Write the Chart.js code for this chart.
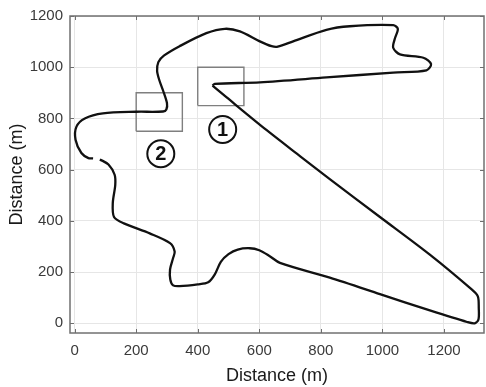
<!DOCTYPE html>
<html><head><meta charset="utf-8">
<script src="https://cdn.jsdelivr.net/npm/chart.js@4/dist/chart.umd.min.js"></script>
<style>html,body{margin:0;padding:0;background:#fff}#wrap{width:486px;height:387px}</style>
</head><body><div id="wrap"><canvas id="c" width="486" height="387"></canvas></div>
<script>
// Track centre line (m); null marks the small gap in the drawn line
const pathX = [448,493,623,732,829,992,1154,1290,1310,1313,1312,1300,1275,1154,992,829,667,634,600,569,530,500,475,455,434,400,341,320,311,310,320,325,310,244,160,128,124,132,130,110,82,null,60,45,22,3,6,33,92,200,287,298,300,287,275,268,272,290,341,428,488,537,600,640,660,710,818,894,1035,1050,1040,1035,1057,1133,1158,1143,1035,818,602,455,448];
const pathY = [928,883,755,653,563,415,268,132,105,60,15,0,5,50,114,178,236,262,285,293,288,270,240,190,160,152,145,148,170,210,255,280,313,351,390,415,470,540,580,620,640,null,644,645,665,717,768,800,820,826,827,835,860,910,950,985,1020,1045,1082,1133,1150,1140,1102,1082,1080,1101,1146,1160,1164,1150,1110,1076,1050,1037,1012,988,979,960,941,935,928];
// Highlight boxes (m)
const boxLeft = [400, 200];
const boxRight = [550, 350];
const boxBottom = [850, 750];
const boxTop = [1000, 900];
// Circled labels (m)
const markX = [481, 280];
const markY = [757, 662];
const markText = ['1', '2'];
// Axis ticks
const xTicks = [0, 200, 400, 600, 800, 1000, 1200];
const yTicks = [0, 200, 400, 600, 800, 1000, 1200];
const xTitle = 'Distance (m)';
const yTitle = 'Distance (m)';

const FONT = "'Liberation Sans', Arial, Helvetica, sans-serif";
const pathData = pathX.map((x, i) => ({x: x, y: pathY[i]}));
const boxSets = boxLeft.map((l, i) => ({
  data: [{x: l, y: boxBottom[i]}, {x: boxRight[i], y: boxBottom[i]}, {x: boxRight[i], y: boxTop[i]}, {x: l, y: boxTop[i]}, {x: l, y: boxBottom[i]}],
  showLine: true, borderColor: '#7f7f7f', borderWidth: 1.4, pointRadius: 0, tension: 0, fill: false
}));

const framePlugin = {
  id: 'frame',
  afterDatasetsDraw(chart) {
    const {ctx, chartArea: a, scales: {x, y}} = chart;
    ctx.save();
    // circled labels
    ctx.strokeStyle = '#111'; ctx.lineWidth = 2;
    ctx.fillStyle = '#111';
    ctx.font = 'bold 20px ' + FONT;
    ctx.textAlign = 'center'; ctx.textBaseline = 'middle';
    markX.forEach((mx, i) => {
      const px = x.getPixelForValue(mx), py = y.getPixelForValue(markY[i]);
      ctx.beginPath(); ctx.arc(px, py, 13.5, 0, Math.PI * 2); ctx.stroke();
      ctx.fillText(markText[i], px, py + 1);
    });
    // inward tick marks
    ctx.strokeStyle = '#6e6e6e'; ctx.lineWidth = 1;
    ctx.beginPath();
    xTicks.forEach(v => {
      const px = Math.round(x.getPixelForValue(v)) + 0.5;
      ctx.moveTo(px, a.bottom); ctx.lineTo(px, a.bottom - 4);
      ctx.moveTo(px, a.top); ctx.lineTo(px, a.top + 4);
    });
    yTicks.forEach(v => {
      const py = Math.round(y.getPixelForValue(v)) + 0.5;
      ctx.moveTo(a.left, py); ctx.lineTo(a.left + 4, py);
      ctx.moveTo(a.right, py); ctx.lineTo(a.right - 4, py);
    });
    ctx.stroke();
    // box
    ctx.lineWidth = 1.5; ctx.strokeStyle = '#707070';
    ctx.strokeRect(a.left, a.top, a.right - a.left, a.bottom - a.top);
    ctx.restore();
  }
};

new Chart(document.getElementById('c'), {
  type: 'scatter',
  data: {
    datasets: [
      {data: pathData, showLine: true, borderColor: '#111', borderWidth: 2.3, pointRadius: 0, tension: 0.3, spanGaps: false, fill: false}
    ].concat(boxSets)
  },
  options: {
    responsive: false, animation: false, devicePixelRatio: 1,
    layout: {padding: {top: 11, right: 2, left: 0, bottom: 0}},
    plugins: {legend: {display: false}, tooltip: {enabled: false}},
    scales: {
      x: {
        type: 'linear', min: -15, max: 1330,
        afterBuildTicks: s => { s.ticks = xTicks.map(v => ({value: v})); },
        afterFit: s => { s.height = 54; },
        grid: {color: '#e6e6e6', lineWidth: 1, drawTicks: false},
        border: {display: false},
        ticks: {padding: 9, color: '#3a3a3a', font: {family: FONT, size: 15}, maxRotation: 0, callback: v => String(v)},
        title: {display: true, text: xTitle, color: '#1a1a1a', font: {family: FONT, size: 18}, padding: {top: 0, bottom: 0}}
      },
      y: {
        type: 'linear', min: -38, max: 1200,
        afterBuildTicks: s => { s.ticks = yTicks.map(v => ({value: v})); },
        afterFit: s => { s.width = 70; },
        grid: {color: '#e6e6e6', lineWidth: 1, drawTicks: false},
        border: {display: false},
        ticks: {padding: 7, color: '#3a3a3a', font: {family: FONT, size: 15}, callback: v => String(v)},
        title: {display: true, text: yTitle, color: '#1a1a1a', font: {family: FONT, size: 18}, padding: {top: 6, bottom: 0}}
      }
    }
  },
  plugins: [framePlugin]
});
</script></body></html>
